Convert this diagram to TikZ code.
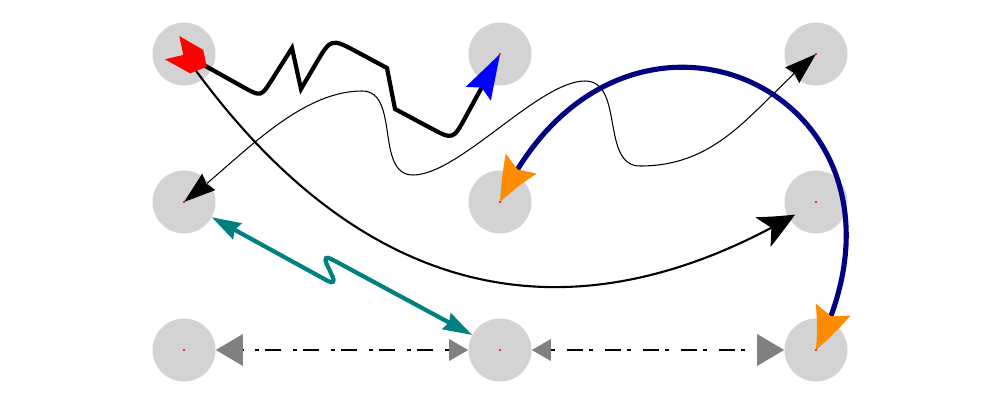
\documentclass[tikz,border=0pt]{standalone}
\usetikzlibrary{arrows.meta,calc,bending}
\definecolor{spotgray}{RGB}{211,211,211}
\definecolor{dorange}{RGB}{255,140,0}
\definecolor{navyc}{RGB}{0,0,128}
\definecolor{tealc}{RGB}{0,128,128}
\definecolor{grayc}{RGB}{128,128,128}
\tikzset{
  spot/.style={circle,fill=spotgray,minimum size=1.26cm,inner sep=0pt},
  thinhead/.tip={Stealth[length=18.2pt,width=12pt,inset=1.7pt,line width=0pt]},
  medhead/.tip={Stealth[length=21.6pt,width=19pt,inset=5.7pt,line width=0pt,bend]},
  orhead/.tip={Stealth[length=26pt,width=21pt,inset=4.3pt,line width=0pt,color=dorange,fill=dorange,bend]},
  bluehead/.tip={Stealth[length=25.8pt,width=16.3pt,inset=4pt,line width=0pt,color=blue,fill=blue]},
  tealhead/.tip={Stealth[length=16.7pt,width=10.7pt,inset=1.9pt,line width=0pt,color=tealc,fill=tealc]},
  bigtri/.tip={Triangle[length=15.4pt,width=18.2pt,line width=0pt,color=grayc,fill=grayc]},
  smalltri/.tip={Triangle[length=10.8pt,width=12.5pt,line width=0pt,color=grayc,fill=grayc]},
  thinline/.style={line width=0.6pt,black},
  medline/.style={line width=1.2pt,black},
  zigline/.style={line width=2.4pt,black},
  navyline/.style={line width=2.9pt,navyc},
  tealline/.style={line width=2.4pt,tealc,rounded corners=6pt},
  dashline/.style={line width=1.6pt,black,dash pattern=on 2.3pt off 6.8pt on 9.1pt off 3.4pt}
}
\begin{document}
\begin{tikzpicture}[x=0.02cm,y=0.02cm]
\useasboundingbox (0,0) rectangle (1000,400);
% nodes
\node[spot] (A) at (184,346) {};
\node[spot] (B) at (500,346) {};
\node[spot] (C) at (816,346) {};
\node[spot] (D) at (184,198) {};
\node[spot] (E) at (500,198) {};
\node[spot] (F) at (816,198) {};
\node[spot] (G) at (184,50) {};
\node[spot] (H) at (500,50) {};
\node[spot] (I) at (816,50) {};
% helper coordinates
\coordinate (k1) at (362,309);
\coordinate (b1) at (413,225);
\coordinate (k2) at (585,319);
\coordinate (b2) at (640,234);
\coordinate (p1) at (261,303);
\coordinate (p2) at (292,352);
\coordinate (p3) at (301,311);
\coordinate (p4) at (331,362);
\coordinate (p5) at (387,332);
\coordinate (p6) at (395,291);
\coordinate (p7) at (453,260);
\coordinate (z1) at (337,114);
\coordinate (z2) at (322,146);
% medium curve A -> F
\draw[medline,-{medhead},shorten >=14pt] (A.center) to[out=-55,in=212,looseness=1.16] (F.center);
% thin curve D <-> C
\draw[thinline,{thinhead}-{thinhead}] (D.center) to[out=37,in=180,looseness=0.8] (k1)
  to[out=0,in=180] (b1) to[out=0,in=180,looseness=0.6] (k2)
  to[out=0,in=180] (b2) to[out=0,in=220] (C.center);
% thick zigzag A -> B
\draw[zigline,-{bluehead}] (A.center) -- ($(p1)!12pt!(A.center)$) .. controls (p1) .. ($(p1)!12pt!(p2)$)
  -- (p2) -- (p3) -- ($(p4)!17pt!(p3)$) .. controls (p4) .. ($(p4)!17pt!(p5)$)
  -- (p5) -- (p6) -- ($(p7)!15pt!(p6)$) .. controls (p7) .. ($(p7)!15pt!(B.center)$) -- (B.center);
% red tail at A
\fill[red] ([shift={(-4.7,18)}]A.center) -- ([shift={(19.3,4)}]A.center) -- ([shift={(22.7,-12.7)}]A.center)
  -- ([shift={(6,-19.3)}]A.center) -- ([shift={(-19,-5.3)}]A.center) -- ([shift={(-0.7,-1)}]A.center) -- cycle;
% navy arc E <-> I
\draw[navyline,{orhead}-{orhead}] (E.center) to[out=65,in=63,looseness=2.1] (I.center);
% teal zigzag D <-> H
\draw[tealline,{tealhead}-{tealhead}] (D) -- (z1) -- (z2) -- (H);
% gray dash-dot connectors
\draw[dashline,{smalltri}-{bigtri}] (H) -- (G);
\draw[dashline,{smalltri}-{bigtri}] (H) -- (I);
% red centre dots
\foreach \n in {A,B,C,D,E,F,G,H,I} \fill[red] (\n.center) circle (1.1);
\end{tikzpicture}
\end{document}
